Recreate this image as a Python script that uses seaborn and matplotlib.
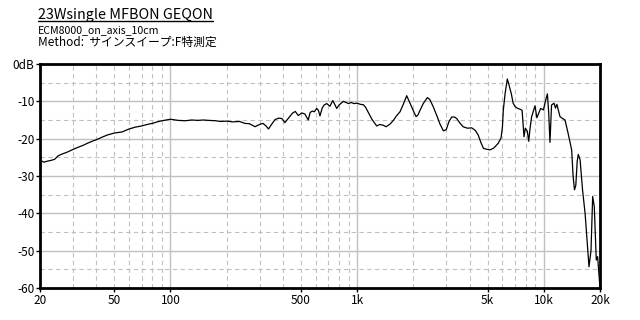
import matplotlib
matplotlib.use("Agg")
import matplotlib.pyplot as plt
from matplotlib.lines import Line2D
from matplotlib.ticker import FixedLocator, NullFormatter
import seaborn as sns
import pandas as pd

# ---- data ----
freq_hz = [20, 21, 22, 23, 24, 25, 26, 28, 30, 32, 34, 36, 38, 40, 43, 46, 50, 55, 60, 65,
           70, 75, 80, 85, 90, 95, 100, 110, 120, 130, 140, 150, 160, 175, 185, 200, 215, 235,
           250, 265, 284, 300, 313, 325, 335, 350, 363, 380, 395, 410, 430, 450, 466, 484,
           505, 525, 547, 560, 575, 590, 607, 620, 632, 650, 665, 687, 715, 740, 760, 777,
           800, 825, 843, 870, 900, 930, 960, 1000, 1040, 1079, 1110, 1148, 1200, 1273, 1320,
           1380, 1430, 1500, 1563, 1630, 1697, 1760, 1843, 1900, 1960, 2020, 2070, 2120, 2172,
           2260, 2377, 2450, 2559, 2680, 2774, 2896, 3000, 3100, 3209, 3320, 3414, 3550, 3694,
           3900, 4107, 4300, 4450, 4600, 4750, 5000, 5150, 5400, 5705, 5900, 6000, 6070, 6200,
           6375, 6500, 6700, 6850, 7015, 7250, 7455, 7650, 7833, 7960, 8160, 8300, 8450, 8610,
           8970, 9180, 9620, 9950, 10200, 10450, 10620, 10790, 11000, 11340, 11550, 11750,
           12210, 12600, 12990, 13500, 14100, 14350, 14600, 14840, 15100, 15300, 15650, 16130,
           16640, 17000, 17460, 17900, 18270, 18640, 19100, 19420, 19900, 20000]
level_db = [-25.8, -26.3, -26.0, -25.8, -25.5, -24.6, -24.2, -23.6, -22.9, -22.3, -21.8, -21.2,
            -20.7, -20.3, -19.6, -19.0, -18.5, -18.2, -17.4, -16.9, -16.6, -16.2, -15.9, -15.5,
            -15.2, -15.0, -14.8, -15.1, -15.2, -15.0, -15.1, -15.0, -15.1, -15.2, -15.4, -15.3,
            -15.5, -15.4, -15.9, -16.0, -16.8, -16.2, -15.9, -16.6, -17.4, -16.0, -14.9, -14.5,
            -14.6, -15.7, -14.4, -13.2, -12.7, -13.8, -13.1, -13.4, -15.0, -13.0, -12.6, -12.8,
            -11.9, -12.4, -13.9, -11.8, -11.0, -10.6, -11.3, -9.8, -10.9, -11.9, -11.0, -10.4,
            -10.0, -10.3, -10.6, -10.3, -10.6, -10.5, -10.8, -10.9, -11.6, -13.0, -14.8, -16.6,
            -16.2, -16.4, -16.8, -16.1, -15.1, -13.8, -12.8, -11.0, -8.5, -10.0, -11.5, -13.0,
            -14.1, -13.6, -12.4, -10.6, -9.0, -9.5, -11.5, -14.0, -16.0, -17.9, -17.6, -15.5,
            -14.2, -14.2, -14.6, -15.8, -16.8, -17.2, -17.1, -17.8, -19.0, -21.0, -22.6, -22.9,
            -23.0, -22.5, -21.2, -19.8, -17.0, -12.3, -8.0, -4.0, -5.5, -8.0, -10.5, -11.4,
            -11.9, -12.1, -12.4, -19.5, -17.2, -18.0, -20.7, -17.0, -14.1, -11.2, -14.4, -11.9,
            -12.3, -10.0, -8.0, -13.0, -21.0, -11.0, -10.5, -11.8, -10.8, -14.1, -14.6, -15.0,
            -18.6, -23.0, -30.0, -33.7, -32.5, -26.0, -24.2, -25.7, -33.8, -40.0, -46.3, -54.3,
            -50.0, -35.5, -38.2, -52.5, -51.6, -58.8, -60.0]

x_ticks = [20, 50, 100, 500, 1000, 5000, 10000, 20000]
x_tick_labels = ["20", "50", "100", "500", "1k", "5k", "10k", "20k"]
y_ticks = [0, -10, -20, -30, -40, -50, -60]
y_tick_labels = ["0dB", "-10", "-20", "-30", "-40", "-50", "-60"]

title = "23Wsingle MFBON GEQON"
subtitle1 = "ECM8000_on_axis_10cm"
subtitle2 = "Method:  サインスイープ:F特測定"

sns.set_theme(style="white")
plt.rcParams["font.family"] = ["Noto Sans CJK JP", "DejaVu Sans"]

df = pd.DataFrame({"freq": freq_hz, "db": level_db})

fig = plt.figure(figsize=(6.4, 3.2), dpi=100)
ax = fig.add_axes([40 / 640, 1 - 288 / 320, 560 / 640, 224 / 320])

sns.lineplot(data=df, x="freq", y="db", ax=ax, color="black", linewidth=0.9,
             sort=False, estimator=None)

ax.set_xscale("log")
ax.set_xlim(20, 20000)
ax.set_ylim(-60, 0)

# grid
minor_x = [m * 10 ** e for e in range(1, 5) for m in range(2, 10)]
minor_x = [v for v in minor_x if 20 < v < 20000 and v not in (100, 1000, 10000)]
ax.xaxis.set_major_locator(FixedLocator(x_ticks))
ax.set_xticklabels(x_tick_labels)
ax.xaxis.set_minor_locator(FixedLocator(minor_x))
ax.xaxis.set_minor_formatter(NullFormatter())
ax.set_yticks(y_ticks)
ax.set_yticklabels(y_tick_labels)
ax.yaxis.set_minor_locator(FixedLocator([-5, -15, -25, -35, -45, -55]))

for v in [100, 1000, 10000]:
    ax.axvline(v, color="#c0c0c0", linewidth=1.0, zorder=0)
for v in minor_x:
    ax.axvline(v, color="#c0c0c0", linewidth=0.8, linestyle=(0, (4, 3)), zorder=0)
for v in [-10, -20, -30, -40, -50]:
    ax.axhline(v, color="#c0c0c0", linewidth=1.0, zorder=0)
for v in [-5, -15, -25, -35, -45, -55]:
    ax.axhline(v, color="#c0c0c0", linewidth=0.8, linestyle=(0, (4, 3)), zorder=0)

ax.set_xlabel("")
ax.set_ylabel("")
for s in ax.spines.values():
    s.set_visible(True)
    s.set_color("black")
    s.set_linewidth(2.0)

ax.tick_params(axis="both", which="major", length=3, width=1, color="black",
               labelsize=8.5, labelcolor="black", pad=1, direction="out",
               bottom=True, left=True)
ax.tick_params(axis="both", which="minor", length=0)

# titles
t = fig.text(38 / 640, 1 - 19 / 320, title, fontsize=10.3, color="black",
             ha="left", va="baseline")
fig.text(38 / 640, 1 - 33 / 320, subtitle1, fontsize=7.6, color="black",
         ha="left", va="baseline")
fig.text(38 / 640, 1 - 46 / 320, subtitle2, fontsize=8.5, color="black",
         ha="left", va="baseline")

fig.canvas.draw()
bb = t.get_window_extent(renderer=fig.canvas.get_renderer())
W, H = fig.bbox.width, fig.bbox.height
uy = (H - 21) / H
fig.add_artist(Line2D([bb.x0 / W, bb.x1 / W], [uy, uy], color="black", linewidth=1.0,
                      transform=fig.transFigure))

fig.savefig("out.png", dpi=100, facecolor="white")
